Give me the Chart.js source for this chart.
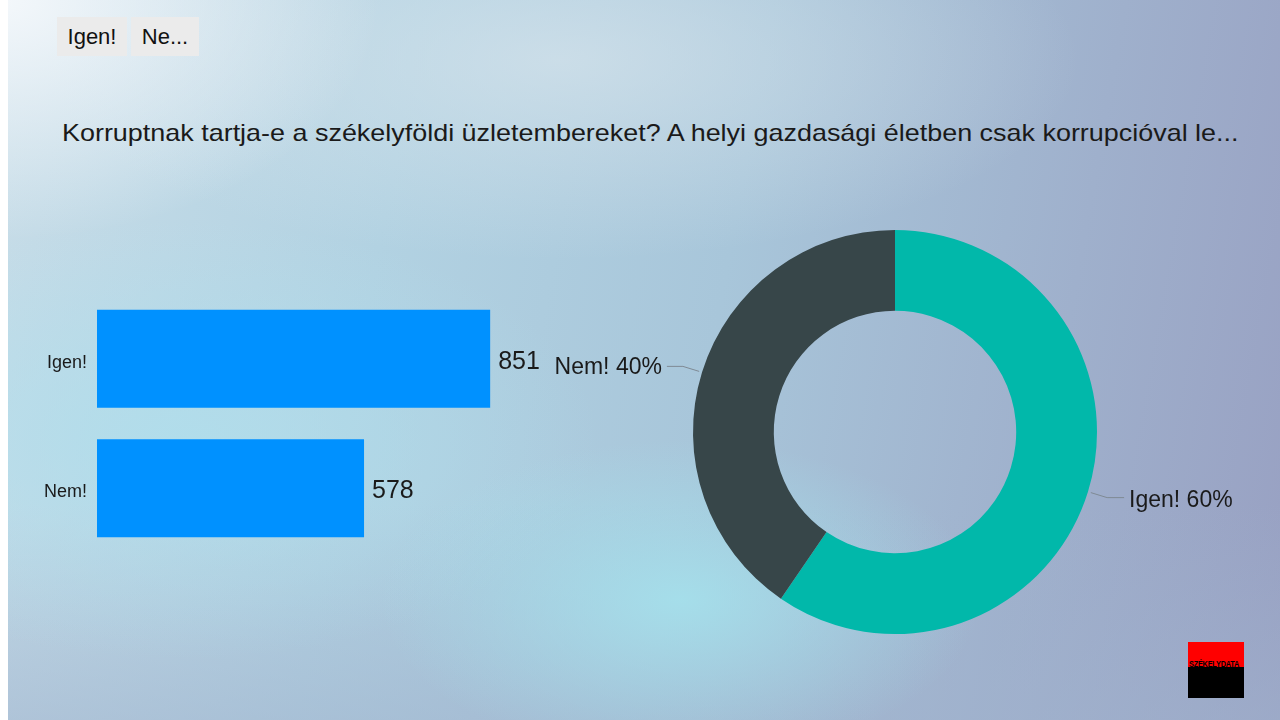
<!DOCTYPE html>
<html>
<head>
<meta charset="utf-8">
<script src="https://cdn.jsdelivr.net/npm/chart.js@4.4.1/dist/chart.umd.min.js"></script>
<style>
  html, body { margin:0; padding:0; }
  body {
    width:1280px; height:720px; position:relative; overflow:hidden;
    font-family:"Liberation Sans", Arial, sans-serif; color:#1a1a1a;
    background:
      linear-gradient(90deg, #ffffff 0px, #ffffff 8px, transparent 8px),
      radial-gradient(ellipse 380px 240px at 0px 0px, rgba(246,249,252,0.95), rgba(246,249,252,0) 100%),
      radial-gradient(ellipse 520px 200px at 560px 60px, rgba(215,228,236,0.7), rgba(215,228,236,0) 100%),
      radial-gradient(ellipse 300px 160px at 680px 600px, rgba(165,225,236,0.9), rgba(165,225,236,0) 100%),
      radial-gradient(ellipse 420px 220px at 180px 440px, rgba(175,222,236,0.85), rgba(175,222,236,0) 100%),
      linear-gradient(180deg, rgba(160,178,205,0) 70%, rgba(160,178,205,0.55) 100%),
      linear-gradient(100deg, #c8dde8 0%, #b2d2e2 30%, #a8c6da 55%, #9fb0cc 80%, #98a0c2 100%);
  }
  .btn { position:absolute; top:17px; height:39px; background:#ebebeb; font-size:22px; line-height:39px; text-align:center; color:#111; }
  #title { position:absolute; left:62px; top:119px; font-size:24px; color:#1a1a1a; white-space:nowrap; transform:scaleX(1.122); transform-origin:0 0; }
  #logo { position:absolute; left:1188px; top:642px; width:56px; height:56px;
    background:linear-gradient(180deg, #ff0000 0, #ff0000 25px, #000 25px); }
  #logo span { position:absolute; left:1px; top:17px; font-size:9px; font-weight:bold; color:#000; line-height:10px; white-space:nowrap; transform:scaleX(0.82); transform-origin:0 0; letter-spacing:-0.3px; }
  canvas { position:absolute; }
</style>
</head>
<body>
<div class="btn" style="left:57px;width:70px;">Igen!</div>
<div class="btn" style="left:131px;width:68px;">Ne...</div>
<div id="title">Korruptnak tartja-e a székelyföldi üzletembereket? A helyi gazdasági életben csak korrupcióval le...</div>
<div style="position:absolute;left:0;top:250px;width:640px;height:350px;"><canvas id="bar"></canvas></div>
<div style="position:absolute;left:540px;top:200px;width:720px;height:470px;"><canvas id="pie"></canvas></div>
<div id="logo"><span>SZÉKELYDATA</span></div>
<script>
const categories = ["Igen!", "Nem!"];
const votes = [851, 578];
const percentLabels = ["60%", "40%"];
const barColor = "#0091ff";
const pieColors = ["#01b8aa", "#374649"];

const barValueLabels = {
  id: "barValueLabels",
  afterDatasetsDraw(chart) {
    const ctx = chart.ctx;
    const meta = chart.getDatasetMeta(0);
    ctx.save();
    ctx.font = '25px "Liberation Sans", Arial, sans-serif';
    ctx.fillStyle = "#1a1a1a";
    ctx.textBaseline = "middle";
    ctx.textAlign = "left";
    meta.data.forEach((el, i) => {
      ctx.fillText(String(chart.data.datasets[0].data[i]), el.x + 8, el.y + 3);
    });
    ctx.restore();
  }
};

new Chart(document.getElementById("bar"), {
  type: "bar",
  data: { labels: categories, datasets: [{ data: votes, backgroundColor: barColor, borderWidth: 0, barPercentage: 0.757, categoryPercentage: 1 }] },
  options: {
    indexAxis: "y", responsive: true, maintainAspectRatio: false, animation: false,
    layout: { padding: { top: 44, bottom: 47, right: 81, left: 0 } },
    plugins: { legend: { display: false }, tooltip: { enabled: false } },
    scales: {
      x: { display: false, min: 0, max: 1000 },
      y: {
        grid: { display: false }, border: { display: false },
        ticks: { padding: 2, labelOffset: 4, color: "#1a1a1a", font: { family: '"Liberation Sans", Arial, sans-serif', size: 18 } },
        afterFit(scale) { scale.width = 97; }
      }
    }
  },
  plugins: [barValueLabels]
});

const donutLabels = {
  id: "donutLabels",
  afterDatasetsDraw(chart) {
    const ctx = chart.ctx;
    const meta = chart.getDatasetMeta(0);
    ctx.save();
    ctx.font = '23px "Liberation Sans", Arial, sans-serif';
    ctx.textBaseline = "middle";
    meta.data.forEach((arc, i) => {
      const mid = (arc.startAngle + arc.endAngle) / 2;
      const r = arc.outerRadius;
      const x1 = arc.x + Math.cos(mid) * (r + 3), y1 = arc.y + Math.sin(mid) * (r + 3);
      const x2 = arc.x + Math.cos(mid) * (r + 20), y2 = arc.y + Math.sin(mid) * (r + 20);
      const right = Math.cos(mid) >= 0;
      const x3 = x2 + (right ? 17 : -16);
      ctx.strokeStyle = "#7f8a94"; ctx.lineWidth = 1;
      ctx.beginPath(); ctx.moveTo(x1, y1); ctx.lineTo(x2, y2); ctx.lineTo(x3, y2); ctx.stroke();
      ctx.fillStyle = "#1a1a1a";
      ctx.textAlign = right ? "left" : "right";
      ctx.fillText(chart.data.labels[i] + " " + percentLabels[i], x3 + (right ? 5 : -5), y2 + (right ? 3 : 1));
    });
    ctx.restore();
  }
};

new Chart(document.getElementById("pie"), {
  type: "doughnut",
  data: { labels: categories, datasets: [{ data: votes, backgroundColor: pieColors, borderWidth: 0 }] },
  options: {
    responsive: true, maintainAspectRatio: false, animation: false, cutout: "60%",
    layout: { padding: { left: 153, right: 163, top: 30, bottom: 36 } },
    plugins: { legend: { display: false }, tooltip: { enabled: false } }
  },
  plugins: [donutLabels]
});
</script>
</body>
</html>
